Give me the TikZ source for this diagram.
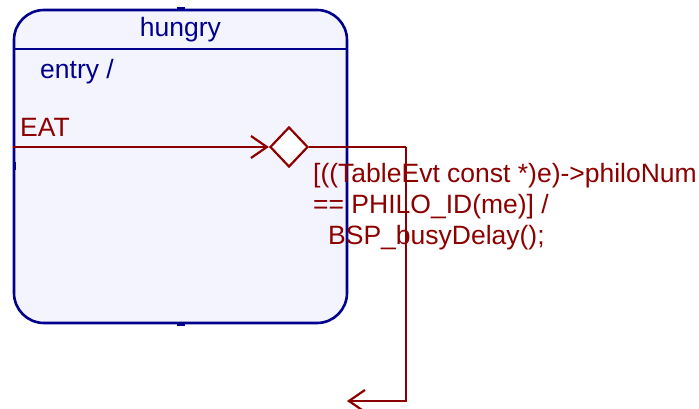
\documentclass[tikz,border=0pt]{standalone}
\usepackage{fontspec}
\setmainfont{Liberation Sans}
\usetikzlibrary{positioning,arrows.meta,shapes.geometric}
\definecolor{stblue}{RGB}{0,0,140}
\definecolor{stfill}{RGB}{244,244,255}
\definecolor{trred}{RGB}{140,0,0}
\tikzset{
	x=1pt, y=-1pt,
	every node/.style={font=\fontsize{26.5pt}{31pt}\selectfont},
	state box/.style={draw=stblue, fill=stfill, line width=2.6pt, rounded corners=30pt, minimum width=333pt, minimum height=313pt, inner sep=0pt},
	state text/.style={text=stblue, anchor=base west, inner sep=0pt},
	tran/.style={draw=trred, line width=2.2pt},
	tran text/.style={text=trred, anchor=base west, inner sep=0pt, align=left},
	choice/.style={diamond, draw=trred, fill=white, line width=2.2pt, inner sep=0pt, minimum width=38pt, minimum height=40pt},
	handle/.style={fill=stblue, minimum width=8pt, minimum height=3pt, inner sep=0pt},
	>={Straight Barb[length=16pt,width=22pt,line width=2.2pt]},
}

\begin{document}
\begin{tikzpicture}
	\useasboundingbox (0,0) rectangle (699,409);

	% state
	\node[state box] (hungry) at (180.5,166.5) {};
	\draw[stblue, line width=2.2pt] (14,49) -- (347,49);
	\node[state text, anchor=base] (name) at (180.5,37) {hungry};
	\node[state text] (entry) at (40,79) {entry /};
	\node[handle] (h1) at (hungry.north) {};
	\node[handle] (h2) at (hungry.south) {};
	\node[handle, minimum width=3pt, minimum height=8pt] (h3) at (14,166) {};

	% transition
	\node[choice] (junc) at (289,147) {};
	\coordinate (bend) at (406,147);
	\coordinate (target) at (347,401);
	\node[tran text] (evt) at (20,137) {EAT};
	\draw[tran, ->] (hungry.west |- junc) -- (junc.west);
	\draw[tran] (junc.east) -- (bend);
	\draw[tran, ->] (bend) |- (target);
	\node[tran text] (guard) at (313,244) {[((TableEvt const *)e)->philoNum\\== PHILO\_ID(me)] /\\\hspace*{15pt}BSP\_busyDelay();};
\end{tikzpicture}
\end{document}
